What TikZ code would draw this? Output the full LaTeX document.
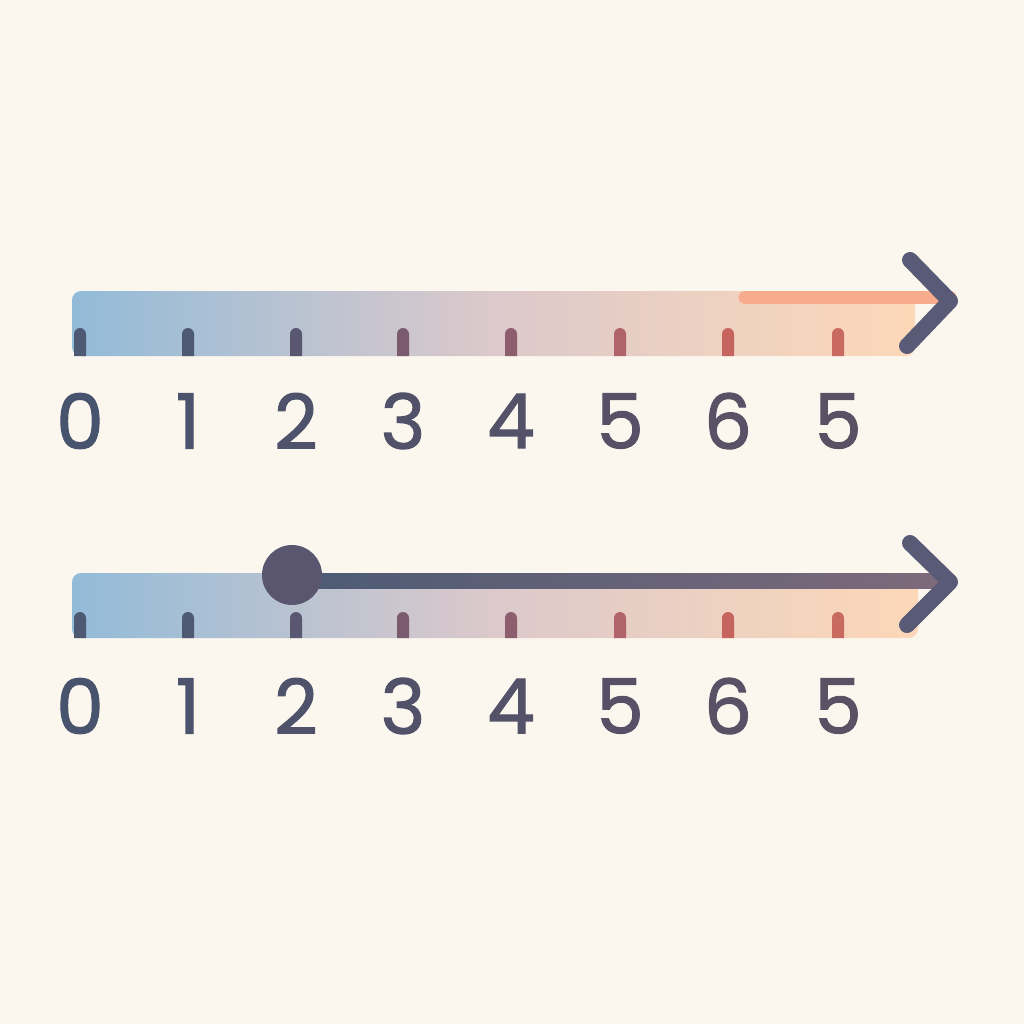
\documentclass[tikz,border=0pt]{standalone}
\usepackage{fontspec}
\setmainfont{Poppins}[FakeBold=1.4]
\usetikzlibrary{positioning, calc}
\definecolor{bg}{HTML}{FCF7EE}
\definecolor{barL}{HTML}{92BBD8}
\definecolor{barM}{HTML}{DCC9CB}
\definecolor{barR}{HTML}{FDD8B8}
\definecolor{lineL}{HTML}{4C5A74}
\definecolor{lineR}{HTML}{7E6A7A}
\definecolor{chevcol}{HTML}{585A76}
\definecolor{dotcol}{HTML}{5A5670}
\definecolor{stripcol}{HTML}{F9AB8D}
\definecolor{txtL}{HTML}{48546E}
\definecolor{txtR}{HTML}{5C5064}
\tikzset{
  bar/.style={rounded corners=9pt, left color=barL, right color=barR, middle color=barM},
  chev/.style={line width=16pt, line cap=round, line join=round, chevcol},
  numlabel/.style={inner sep=0pt, font=\fontsize{76}{76}\selectfont}
}

\begin{document}
\begin{tikzpicture}[x=1pt, y=-1pt]
  \fill[bg] (0,0) rectangle (1024,1024);
  \useasboundingbox (0,0) rectangle (1024,1024);

  % upper line
  \shade[bar] (72,291) rectangle (915,356);
  \coordinate (tipA) at (950,301);
  \coordinate (stripA) at (745,297);
  \draw[line width=13pt, line cap=round, stripcol] (stripA) -- (stripA -| tipA);
  \foreach \i/\x/\c/\n in {0/80/4E5A74/0, 1/188/4E5A74/1, 2/296/5A5772/2, 3/403/7A5A6E/3,
                           4/511/8C5E6E/4, 5/620/B0646A/5, 6/728/C6655E/6, 7/838/C86A60/5} {
    \definecolor{tickcol}{HTML}{\c}
    \fill[tickcol] (\x-6,356) -- (\x-6,334) arc (180:360:6) -- (\x+6,356) -- cycle;
    \pgfmathsetmacro{\p}{100-\i*100/7}
    \node[numlabel, text=txtL!\p!txtR] (A\i) at (\x,421) {\n};
  }
  \draw[chev] (910,260) -- (tipA) -- (907,346);

  % lower line
  \shade[bar] (72,573) rectangle (918,638);
  \node[circle, minimum size=60pt, inner sep=0pt] (dot) at (292,575) {};
  \coordinate (tipB) at (950,582);
  \foreach \i/\x/\c/\n in {0/80/4E5A74/0, 1/188/4E5A74/1, 2/296/5A5772/2, 3/403/7A5A6E/3,
                           4/511/8C5E6E/4, 5/620/B0646A/5, 6/728/C6655E/6, 7/838/C86A60/5} {
    \definecolor{tickcol}{HTML}{\c}
    \fill[tickcol] (\x-6,638) -- (\x-6,618) arc (180:360:6) -- (\x+6,638) -- cycle;
    \pgfmathsetmacro{\p}{100-\i*100/7}
    \node[numlabel, text=txtL!\p!txtR] (B\i) at (\x,706) {\n};
  }
  \shade[left color=lineL, right color=lineR] ($(dot.center)+(0,-2)$) rectangle ($(tipB)+(0,6)$);
  \fill[dotcol] (dot.center) circle (30pt);
  \draw[chev] (910,543) -- (tipB) -- (907,625);
\end{tikzpicture}
\end{document}
